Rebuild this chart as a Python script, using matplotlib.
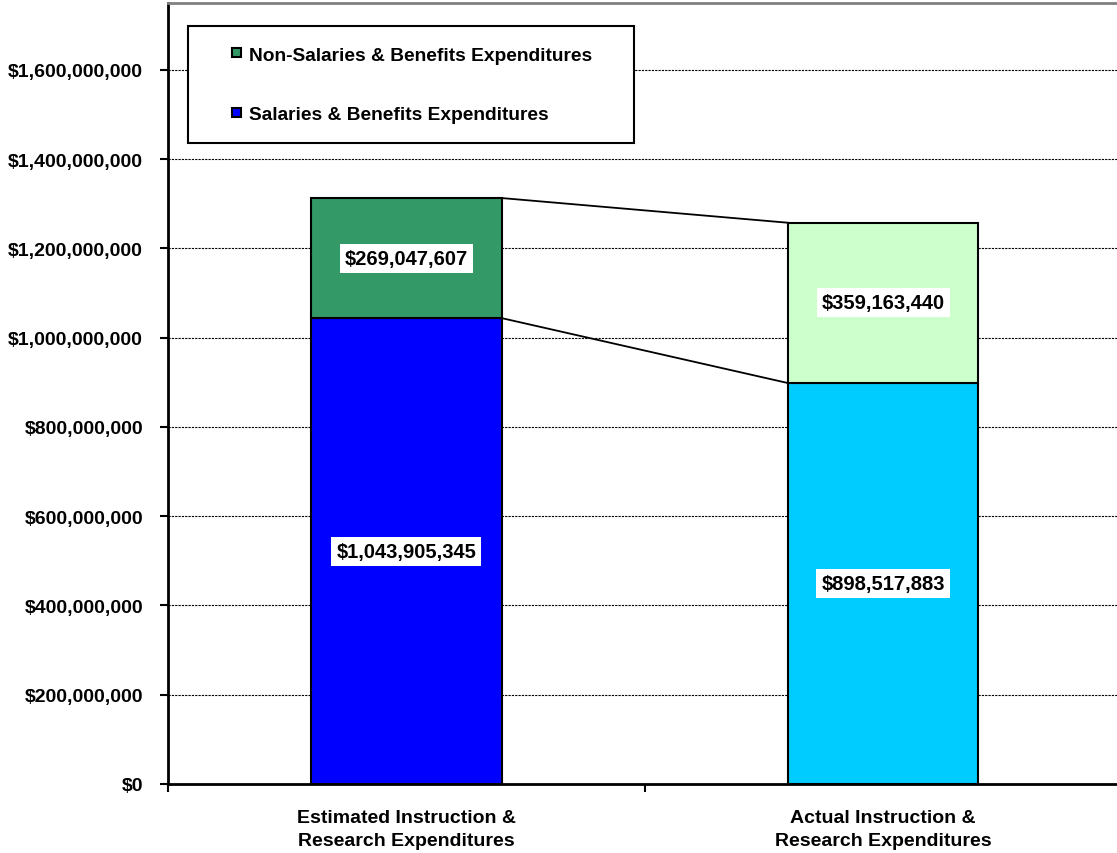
# GRAFICO DE BARRAS APILADAS - GASTOS DE INSTRUCCION E INVESTIGACION

import numpy as np
import matplotlib.pyplot as plt
from matplotlib.patches import Patch, Rectangle
from matplotlib.legend_handler import HandlerPatch
from matplotlib.ticker import FuncFormatter

# DATOS

categorias = [
    "Estimated Instruction &\nResearch Expenditures",
    "Actual Instruction &\nResearch Expenditures"
]

salarios = np.array([1043905345, 898517883])
no_salarios = np.array([269047607, 359163440])

colores_salarios = ["#0000FF", "#00CCFF"]
colores_no_salarios = ["#339966", "#CCFFCC"]

nombres_series = [
    "Non-Salaries & Benefits Expenditures",
    "Salaries & Benefits Expenditures"
]

# FUENTE
plt.rcParams['font.family'] = ['Liberation Sans', 'DejaVu Sans']
plt.rcParams['font.weight'] = 'bold'

fs = 14
fs_valores = 14.5

fig = plt.figure(figsize=(11.17, 8.54), dpi=100)
ax = fig.add_axes([0.1504, 0.0808, 0.8536, 0.9145])

x = np.arange(len(categorias))
ancho = 0.4

# BARRAS
ax.bar(x, salarios, ancho, color=colores_salarios,
       edgecolor="black", linewidth=1.5, zorder=3)
ax.bar(x, no_salarios, ancho, bottom=salarios, color=colores_no_salarios,
       edgecolor="black", linewidth=1.5, zorder=3)

# LINEAS DE CONEXION
totales = salarios + no_salarios
ax.plot([x[0] + ancho / 2, x[1] - ancho / 2], [totales[0], totales[1]],
        color="black", linewidth=1.3, zorder=2)
ax.plot([x[0] + ancho / 2, x[1] - ancho / 2], [salarios[0], salarios[1]],
        color="black", linewidth=1.3, zorder=2)

# ETIQUETAS DE VALORES
caja = dict(boxstyle="square,pad=0.25", facecolor="white", edgecolor="none")
for i in range(len(x)):
    ax.text(x[i], salarios[i] / 2, f"${salarios[i]:,}",
            ha="center", va="center", fontsize=fs_valores, fontweight="bold",
            bbox=caja, zorder=4)
    ax.text(x[i], salarios[i] + no_salarios[i] / 2, f"${no_salarios[i]:,}",
            ha="center", va="center", fontsize=fs_valores, fontweight="bold",
            bbox=caja, zorder=4)

# EJES
ax.set_xlim(-0.5, 1.5)
ax.set_ylim(0, 1.75e9)
ax.set_yticks(np.arange(0, 1.6e9 + 1, 2e8))
ax.yaxis.set_major_formatter(FuncFormatter(lambda v, p: f"${v:,.0f}"))

ax.set_xticks(x)
ax.set_xticklabels(categorias, fontsize=fs, fontweight="bold", linespacing=1.5)
ax.set_xticks([-0.5, 0.5, 1.5], minor=True)
ax.tick_params(axis="x", which="major", length=0, pad=18)
ax.tick_params(axis="x", which="minor", length=6, width=1.5, direction="out")
ax.tick_params(axis="y", length=6, width=1.5, direction="out", pad=12,
               labelsize=fs)
for lab in ax.get_yticklabels():
    lab.set_fontweight("bold")

# CUADRICULA
ax.yaxis.grid(True, color="black", linestyle=(0, (2, 1)), linewidth=0.8, zorder=0)
ax.set_axisbelow(True)

ax.spines["left"].set_linewidth(2)
ax.spines["bottom"].set_linewidth(2)
ax.spines["top"].set_color("#808080")
ax.spines["top"].set_linewidth(2)
ax.spines["right"].set_visible(False)

# LEYENDA
def cuadrado(legend, orig_handle, xdescent, ydescent, width, height, fontsize):
    s = 9 * 0.72
    return Rectangle((width - s - xdescent, -ydescent + (height - s) / 2), s, s)

handles = [
    Patch(facecolor=colores_no_salarios[0], edgecolor="black", linewidth=1.5),
    Patch(facecolor=colores_salarios[0], edgecolor="black", linewidth=1.5)
]
leg = ax.legend(handles, nombres_series, loc="upper left", mode="expand",
                bbox_to_anchor=(0.021, 0.9705, 0.4678, 0), borderaxespad=0,
                prop={"weight": "bold", "size": 13.8},
                fancybox=False, framealpha=1, edgecolor="black",
                borderpad=1.05, labelspacing=2.2, handlelength=1.7,
                handletextpad=0.42,
                handler_map={Patch: HandlerPatch(patch_func=cuadrado)})
leg.get_frame().set_linewidth(1.5)
leg.set_zorder(5)

plt.savefig("out.png", dpi=100)
